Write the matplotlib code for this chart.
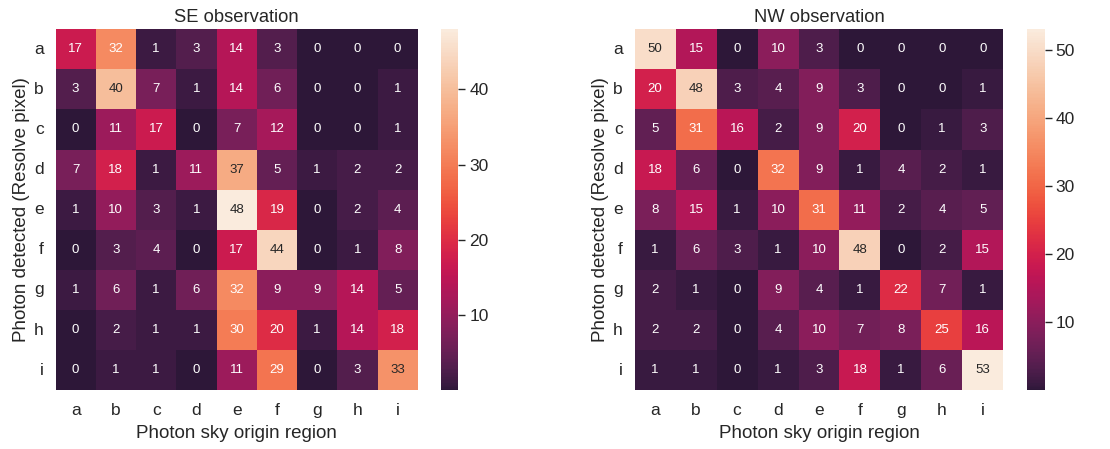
import numpy as np
import matplotlib
matplotlib.use("Agg")
import matplotlib.pyplot as plt
from matplotlib.colors import ListedColormap
import seaborn as sns

regions = ['a', 'b', 'c', 'd', 'e', 'f', 'g', 'h', 'i']

se_counts = [
    [17, 32, 1, 3, 14, 3, 0, 0, 0],
    [3, 40, 7, 1, 14, 6, 0, 0, 1],
    [0, 11, 17, 0, 7, 12, 0, 0, 1],
    [7, 18, 1, 11, 37, 5, 1, 2, 2],
    [1, 10, 3, 1, 48, 19, 0, 2, 4],
    [0, 3, 4, 0, 17, 44, 0, 1, 8],
    [1, 6, 1, 6, 32, 9, 9, 14, 5],
    [0, 2, 1, 1, 30, 20, 1, 14, 18],
    [0, 1, 1, 0, 11, 29, 0, 3, 33],
]

nw_counts = [
    [50, 15, 0, 10, 3, 0, 0, 0, 0],
    [20, 48, 3, 4, 9, 3, 0, 0, 1],
    [5, 31, 16, 2, 9, 20, 0, 1, 3],
    [18, 6, 0, 32, 9, 1, 4, 2, 1],
    [8, 15, 1, 10, 31, 11, 2, 4, 5],
    [1, 6, 3, 1, 10, 48, 0, 2, 15],
    [2, 1, 0, 9, 4, 1, 22, 7, 1],
    [2, 2, 0, 4, 10, 7, 8, 25, 16],
    [1, 1, 0, 1, 3, 18, 1, 6, 53],
]

titles = ['SE observation', 'NW observation']
cbar_ticks = [[10, 20, 30, 40], [10, 20, 30, 40, 50]]

sns.set_theme(style='ticks')
plt.rcParams['font.family'] = ['Liberation Sans', 'DejaVu Sans']

# rocket with a lifted dark end (reference is washed-out purple at 0)
rocket = sns.color_palette('rocket', as_cmap=True)
u = np.linspace(0, 1, 256)
cmap = ListedColormap(rocket(0.12 + 0.88 * u**0.8))

fig = plt.figure(figsize=(11.1, 4.49), dpi=100)

ax_boxes = [[0.0500, 0.131, 0.3264, 0.804], [0.5718, 0.131, 0.3321, 0.804]]
cb_boxes = [[0.3970, 0.131, 0.0160, 0.804], [0.9250, 0.131, 0.0160, 0.804]]

for k, data in enumerate([se_counts, nw_counts]):
    ax = fig.add_axes(ax_boxes[k])
    cax = fig.add_axes(cb_boxes[k])
    sns.heatmap(np.array(data), ax=ax, cbar_ax=cax, cmap=cmap,
                annot=True, fmt='d', annot_kws={'fontsize': 9.5},
                xticklabels=regions, yticklabels=regions)
    ax.set_title(titles[k], fontsize=13.2, pad=5)
    ax.set_xlabel('Photon sky origin region', fontsize=13.5, labelpad=5)
    ax.set_ylabel('Photon detected (Resolve pixel)', fontsize=13.5, labelpad=3)
    ax.tick_params(axis='x', length=0, pad=9.5, labelsize=12.5)
    ax.tick_params(axis='y', length=0, pad=8.5, labelsize=12.5, rotation=0)
    cax.set_yticks(cbar_ticks[k])
    cax.tick_params(length=5, width=1, pad=3, labelsize=12.5)
    for s in cax.spines.values():
        s.set_visible(False)

fig.savefig('out.png', dpi=100)
